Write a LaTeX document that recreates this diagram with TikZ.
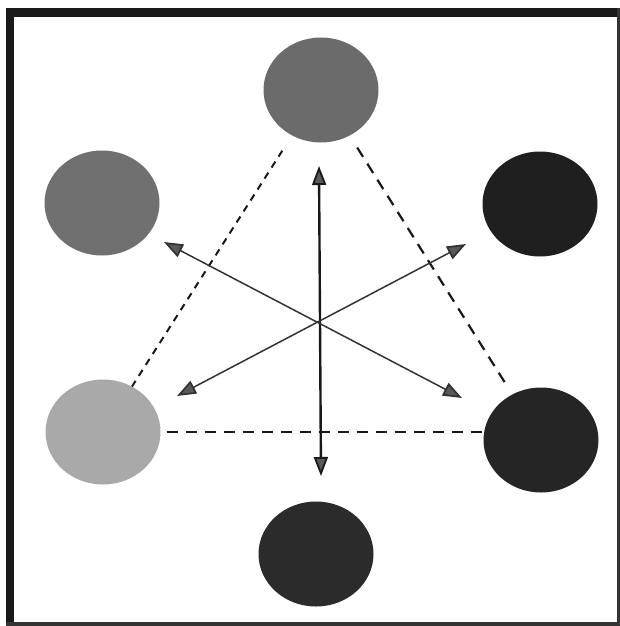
\documentclass[tikz,border=0pt]{standalone}
\usetikzlibrary{shapes.geometric,arrows.meta}
\definecolor{ctop}{HTML}{6B6B6B}
\definecolor{cul}{HTML}{707070}
\definecolor{cur}{HTML}{1F1F1F}
\definecolor{cll}{HTML}{A9A9A9}
\definecolor{clr}{HTML}{252525}
\definecolor{cbot}{HTML}{2B2B2B}
\tikzset{
  disc/.style={ellipse, draw=none, minimum width=115pt, minimum height=105pt, inner sep=0pt},
  tri/.style={line width=2pt, dash pattern=on 7pt off 6pt, black!90},
  trib/.style={line width=2.2pt, dash pattern=on 11pt off 8pt, black!90},
  head/.tip={Triangle[length=19pt,width=14pt,fill=black!65,line width=1.8pt]},
  ray/.style={line width=1.5pt, black!80, head-head},
  rayv/.style={ray, line width=2.4pt, black!90}
}
\begin{document}
\begin{tikzpicture}[x=1pt,y=-1pt]
\useasboundingbox (0,0) rectangle (620,626);
% frame
\fill[white] (0,0) rectangle (620,626);
\fill[black!90] (6,8) rectangle (14,626);
\fill[black!90] (6,8) rectangle (620,17);
\fill[black!80] (617,8) rectangle (620,626);
\fill[black!80] (6,622) rectangle (620,626);
% discs
\node[disc, fill=ctop] (top) at (321,90) {};
\node[disc, fill=cul] (ul) at (102,203) {};
\node[disc, fill=cur] (ur) at (540,204) {};
\node[disc, fill=cll] (ll) at (103,432) {};
\node[disc, fill=clr] (lr) at (541,440) {};
\node[disc, fill=cbot] (bot) at (316,554) {};
% dashed triangle
\draw[tri, shorten <=18pt] (top) -- (ll);
\draw[trib, shorten <=14pt, shorten >=10pt] (top) -- (lr);
\draw[trib, shorten <=6pt] (ll.east) -- (ll.east -| lr.west);
% arrow ends
\coordinate (aU) at (319,166);
\coordinate (aD) at (321,476);
\coordinate (aUL) at (164,242);
\coordinate (aLR) at (462,398);
\coordinate (aUR) at (466,244);
\coordinate (aLL) at (177,396);
\draw[rayv] (aU) -- (aD);
\draw[ray] (aUL) -- (aLR);
\draw[ray] (aUR) -- (aLL);
\end{tikzpicture}
\end{document}
